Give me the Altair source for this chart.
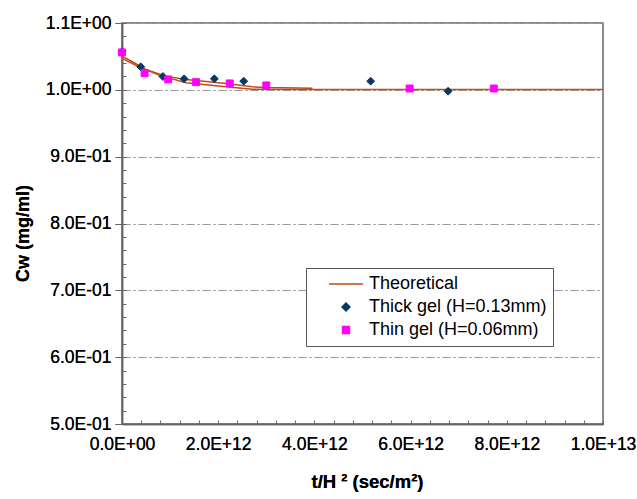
import altair as alt
import pandas as pd

# Theoretical curves (two, same style)
theory_a_t = [0, 0.215e12, 0.49e12, 0.91e12, 1.33e12, 2.16e12, 2.71e12, 2.99e12, 3.96e12]
theory_a_c = [1.0505, 1.042, 1.0306, 1.0205, 1.0156, 1.0096, 1.0045, 1.0036, 1.0025]
theory_b_t = [0, 0.35e12, 0.77e12, 1.33e12, 2.16e12, 2.71e12, 3.69e12, 1.0e13]
theory_b_c = [1.047, 1.0345, 1.022, 1.0105, 1.0045, 1.001, 1.0006, 1.0005]

# Measured data
thick_t = [0, 0.39e12, 0.85e12, 1.29e12, 1.92e12, 2.53e12, 5.17e12, 6.78e12]
thick_c = [1.057, 1.0345, 1.020, 1.0165, 1.0165, 1.013, 1.013, 0.998]
thin_t = [0, 0.47e12, 0.96e12, 1.54e12, 2.24e12, 3.0e12, 5.98e12, 7.73e12]
thin_c = [1.056, 1.025, 1.0156, 1.0115, 1.0096, 1.0066, 1.002, 1.002]

series = ["Theoretical", "Thick gel (H=0.13mm)", "Thin gel (H=0.06mm)"]
colors = ["#bf4b16", "#0a3766", "#ff00ff"]
fills = ["transparent", "#0a3766", "#ff00ff"]
shapes = ["stroke", "diamond", "square"]
sizes = [1150, 62, 48]

x_major = [0, 2e12, 4e12, 6e12, 8e12, 1e13]
x_minor = [i * 0.4e12 for i in range(26)]
y_major = [0.5, 0.6, 0.7, 0.8, 0.9, 1.0, 1.1]
y_minor = [round(0.5 + i * 0.02, 2) for i in range(31)]

lines = pd.DataFrame({
    "t": theory_a_t + theory_b_t,
    "c": theory_a_c + theory_b_c,
    "curve": ["a"] * len(theory_a_t) + ["b"] * len(theory_b_t),
    "series": ["Theoretical"] * (len(theory_a_t) + len(theory_b_t)),
})
points = pd.DataFrame({
    "t": thick_t + thin_t,
    "c": thick_c + thin_c,
    "series": [series[1]] * len(thick_t) + [series[2]] * len(thin_t),
})

fmt = ("datum.value == 0 ? '0.0E+00' : (abs(log(datum.value)/LN10) < 9.5 ? "
       "replace(replace(format(datum.value, '.1e'), 'e+', 'E+0'), 'e-', 'E-0') : "
       "replace(replace(format(datum.value, '.1e'), 'e+', 'E+'), 'e-', 'E-'))")

FONT = "Liberation Sans"
xscale = alt.Scale(domain=[0, 1e13], nice=False, zero=False)
yscale = alt.Scale(domain=[0.5, 1.1], nice=False, zero=False)

x_axis = alt.Axis(values=x_major, labelExpr=fmt, ticks=False, labelPadding=11, grid=False,
                  labelFlush=False, labelOverlap=False,
                  domainColor="#666", domainWidth=1.5, labelFont=FONT, labelFontSize=17.5,
                  labelColor="#000", title="t/H ² (sec/m²)", titleFont=FONT, titleFontSize=18.5,
                  titleFontWeight="bold", titleColor="#000", titleX=245, titleY=57,
                  titleBaseline="middle", titleAlign="center", orient="bottom")
y_axis = alt.Axis(values=y_major, labelExpr=fmt, tickSize=7, tickColor="#666", labelPadding=4,
                  labelFlush=False, labelOverlap=False,
                  grid=True, gridColor="#9a9a9a", gridDash=[8, 3, 2, 3], gridWidth=1,
                  domainColor="#666", domainWidth=1.5, labelFont=FONT, labelFontSize=17.5,
                  labelColor="#000", title="Cw (mg/ml)", titleFont=FONT, titleFontSize=18,
                  titleFontWeight="bold", titleColor="#000", titleX=-99, titleY=210,
                  titleAngle=270, titleBaseline="middle", titleAlign="center", orient="left")

x_axis_minor = alt.Axis(values=x_minor, offset=-4, tickSize=4, tickColor="#666", labels=False,
                        domain=False, grid=False, title=None, orient="bottom")
y_axis_minor = alt.Axis(values=y_minor, offset=-4, tickSize=4, tickColor="#666", labels=False,
                        domain=False, grid=False, title=None, orient="left")

legend = alt.Legend(
    title=None, orient="none", legendX=184, legendY=245, fillColor="white",
    strokeColor="#555", padding=6, labelFont=FONT, labelFontSize=18, labelColor="#000",
    labelLimit=400, clipHeight=20,
    rowPadding=3, labelOffset=5, symbolOffset=16, symbolStrokeWidth=1.5,
)

color = alt.Color("series:O", scale=alt.Scale(type="ordinal", domain=series, range=colors), legend=legend)
fill = alt.Fill("series:O", scale=alt.Scale(type="ordinal", domain=series, range=fills), legend=legend)
shape = alt.Shape("series:O", scale=alt.Scale(type="ordinal", domain=series, range=shapes), legend=legend)
size = alt.Size("series:O", scale=alt.Scale(type="ordinal", domain=series, range=sizes), legend=legend)

line_layer = alt.Chart(lines).mark_line(strokeWidth=1.5).encode(
    x=alt.X("t:Q", scale=xscale, axis=x_axis),
    y=alt.Y("c:Q", scale=yscale, axis=y_axis),
    color=color,
    detail="curve:N",
)

point_layer = alt.Chart(points).mark_point(filled=False, strokeWidth=1, opacity=1).encode(
    x=alt.X("t:Q", scale=xscale, axis=x_axis),
    y=alt.Y("c:Q", scale=yscale, axis=y_axis),
    color=color,
    fill=fill,
    shape=shape,
    size=size,
)

minor_layer = alt.Chart(points).mark_point(opacity=0).encode(
    x=alt.X("t:Q", scale=xscale, axis=x_axis_minor),
    y=alt.Y("c:Q", scale=yscale, axis=y_axis_minor),
)

chart = alt.layer(minor_layer, line_layer, point_layer).resolve_axis(
    x="independent", y="independent"
).properties(
    width=481, height=401,
    autosize=alt.AutoSizeParams(type="none"),
    padding={"left": 122, "top": 23, "right": 34, "bottom": 75},
    background="white",
).configure_view(stroke="#666", strokeWidth=1.5)

chart.save("out.html", embed_options={"renderer": "svg", "actions": False})
